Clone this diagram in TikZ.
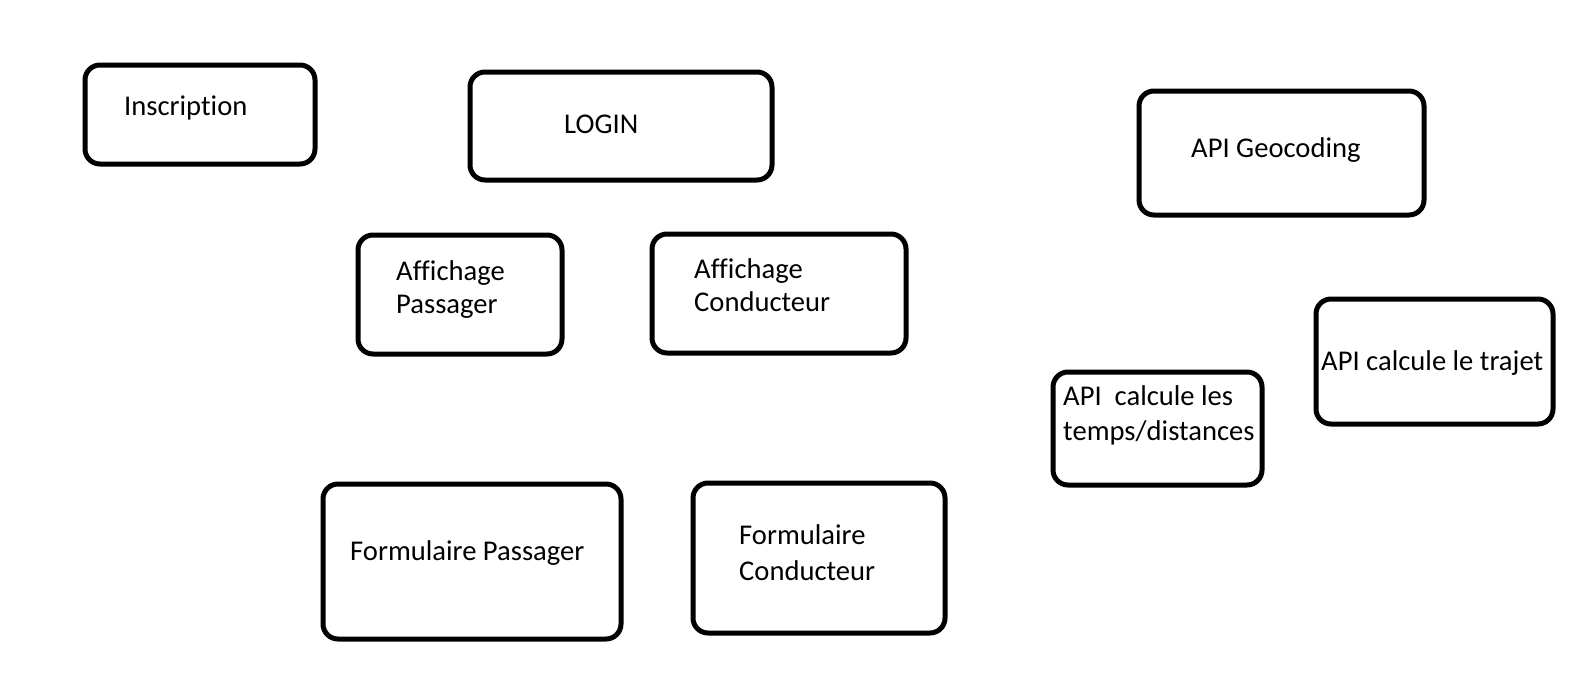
\documentclass[tikz,border=0pt]{standalone}
\usepackage{fontspec}
\setmainfont{Carlito}[Ligatures={NoCommon,NoRare}]
\begin{document}
\begin{tikzpicture}[x=1pt,y=-1pt,
  box/.style={draw=black, line width=5pt, rounded corners=15pt, rectangle, inner sep=0pt},
  lbl/.style={inner sep=0pt, anchor=base west, font=\fontsize{28.6}{34}\selectfont}]
\useasboundingbox[fill=white] (0,0) rectangle (1594,688);
% boxes (centre, width, height)
\node[box, minimum width=230pt, minimum height=99pt] (ins) at (200,114.5) {};
\node[box, minimum width=302pt, minimum height=108pt] (login) at (621,126) {};
\node[box, minimum width=285pt, minimum height=124pt] (geo) at (1281.5,153) {};
\node[box, minimum width=204pt, minimum height=119pt] (affp) at (460,294.5) {};
\node[box, minimum width=254pt, minimum height=119pt] (affc) at (779,293.5) {};
\node[box, minimum width=237pt, minimum height=125pt] (traj) at (1434.5,361.5) {};
\node[box, minimum width=209pt, minimum height=113pt] (temps) at (1157.5,428.5) {};
\node[box, minimum width=298pt, minimum height=155pt] (formp) at (472,561.5) {};
\node[box, minimum width=252pt, minimum height=150pt] (formc) at (819,558) {};
% texts
\node[lbl] (tins) at (124,115) {Inscription};
\node[lbl] (tlogin) at (564,133) {LOGIN};
\node[lbl] (tgeo) at (1191,157) {API Geocoding};
\node[lbl] (taffp1) at (396,280) {Affichage};
\node[lbl] (taffp2) at (396,313) {Passager};
\node[lbl] (taffc1) at (694,278) {Affichage};
\node[lbl] (taffc2) at (694,311) {Conducteur};
\node[lbl] (ttraj) at (1321,370) {API calcule le trajet};
\node[lbl] (ttemps1) at (1063,405) {API\ \ calcule les};
\node[lbl] (ttemps2) at (1063,440) {temps/distances};
\node[lbl] (tformp) at (350,560) {Formulaire Passager};
\node[lbl] (tformc1) at (739,544) {Formulaire};
\node[lbl] (tformc2) at (739,580) {Conducteur};
\end{tikzpicture}
\end{document}
